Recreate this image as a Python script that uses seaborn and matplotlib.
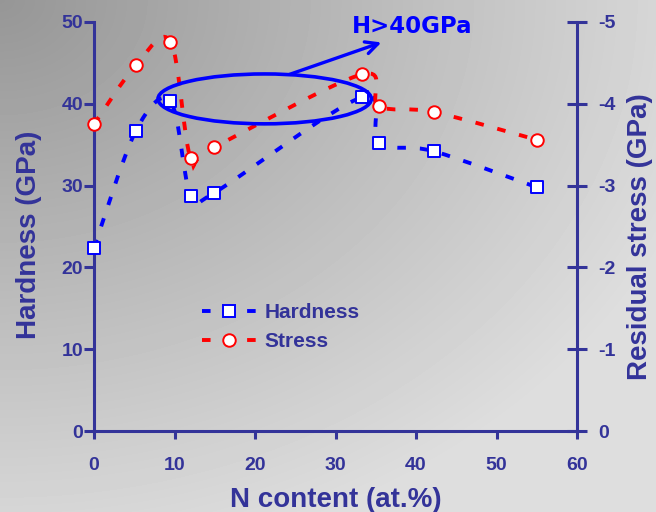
import numpy as np
import pandas as pd
import matplotlib
matplotlib.use("Agg")
import matplotlib.pyplot as plt
from matplotlib.path import Path
from matplotlib.patches import PathPatch, Ellipse
from matplotlib.lines import Line2D
import seaborn as sns

# --- data -------------------------------------------------------------
n_content = [0, 5.2, 9.5, 12.0, 14.9, 33.3, 35.4, 42.2, 55.0]
hardness = [22.4, 36.7, 40.3, 28.7, 29.1, 40.8, 35.2, 34.2, 29.8]
stress = [-3.75, -4.47, -4.76, -3.34, -3.47, -4.36, -3.97, -3.90, -3.56]

x_ticks = [0, 10, 20, 30, 40, 50, 60]
h_ticks = [0, 10, 20, 30, 40, 50]
s_ticks = [0, -1, -2, -3, -4, -5]

df = pd.DataFrame({"N": n_content, "Hardness": hardness, "Stress": stress})

# --- style ------------------------------------------------------------
sns.set_theme(style="white")
plt.rcParams["font.family"] = ["Liberation Sans", "DejaVu Sans"]
plt.rcParams["font.weight"] = "bold"
plt.rcParams["axes.unicode_minus"] = False

NAVY = "#333399"
BLUE = "#0000FF"
RED = "#FF0000"
LW = 2.8
DASH = (0, (2.2, 3.6))
MS = 9.0

fig = plt.figure(figsize=(6.56, 5.12), dpi=100)

# soft grey backdrop, darker toward the upper left
bg = fig.add_axes([0, 0, 1, 1], zorder=-10)
bg.axis("off")
yy, xx = np.mgrid[0:512, 0:656]
dist = np.sqrt((xx / 656.0) ** 2 + (yy / 512.0) ** 2)
shade = np.clip(150 + 64 * dist, 0, 222) / 255.0
bg.imshow(shade, cmap="gray", vmin=0, vmax=1, aspect="auto")

ax = fig.add_axes([94 / 656, 81 / 512, 483 / 656, 409 / 512])
ax.set_facecolor("none")
ax2 = ax.twinx()
ax2.set_facecolor("none")

ax.set_xlim(0, 60)
ax.set_ylim(0, 50)
ax2.set_ylim(0, -5)


def smooth_path(xs, ys):
    """Smoothed polyline through the points (cubic Bezier, Catmull-Rom tangents)."""
    pts = np.column_stack([xs, ys]).astype(float)
    n = len(pts)
    verts = [pts[0]]
    codes = [Path.MOVETO]
    for i in range(n - 1):
        p_prev = pts[i - 1] if i > 0 else pts[i]
        p0, p1 = pts[i], pts[i + 1]
        p_next = pts[i + 2] if i + 2 < n else pts[i + 1]
        c1 = p0 + (p1 - p_prev) / 6.0
        c2 = p1 - (p_next - p0) / 6.0
        verts += [c1, c2, p1]
        codes += [Path.CURVE4] * 3
    return Path(verts, codes)


ax.add_patch(PathPatch(smooth_path(df["N"], df["Hardness"]), fill=False,
                       edgecolor=BLUE, lw=LW, linestyle=DASH, zorder=2))
ax2.add_patch(PathPatch(smooth_path(df["N"], df["Stress"]), fill=False,
                        edgecolor=RED, lw=LW, linestyle=DASH, zorder=2))

sns.scatterplot(data=df, x="N", y="Hardness", ax=ax, marker="s", s=MS ** 2,
                color="white", edgecolor=BLUE, linewidth=1.4, zorder=4,
                legend=False, clip_on=False)
sns.scatterplot(data=df, x="N", y="Stress", ax=ax2, marker="o", s=MS ** 2,
                color="white", edgecolor=RED, linewidth=1.4, zorder=4,
                legend=False, clip_on=False)

# highlight of the super-hard region
ax2.add_patch(Ellipse((21.2, 40.6), 26.5, 6.1, transform=ax.transData,
                      fill=False, edgecolor=BLUE, lw=2.6, zorder=5))
ax2.annotate("", xy=(35.7, 47.5), xytext=(24.3, 43.6),
             xycoords=ax.transData, textcoords=ax.transData,
             arrowprops=dict(arrowstyle="->", color=BLUE, lw=2.4,
                             mutation_scale=22, shrinkA=0, shrinkB=0),
             zorder=5)
ax2.text(32.0, 48.6, "H>40GPa", transform=ax.transData, color=BLUE,
         fontsize=16.5, fontweight="bold", family="DejaVu Sans",
         ha="left", va="baseline", clip_on=False, zorder=6)

# --- axes -------------------------------------------------------------
for a in (ax, ax2):
    for s in a.spines.values():
        s.set_visible(False)
for side in ("left", "bottom"):
    ax.spines[side].set_visible(True)
    ax.spines[side].set_color(NAVY)
    ax.spines[side].set_linewidth(2.2)
ax2.spines["right"].set_visible(True)
ax2.spines["right"].set_color(NAVY)
ax2.spines["right"].set_linewidth(2.2)

ax.set_xticks(x_ticks)
ax.set_yticks(h_ticks)
ax2.set_yticks(s_ticks)
ax2.set_yticklabels([str(v) for v in s_ticks])

ax.tick_params(axis="y", direction="out", length=7, width=2.2, color=NAVY,
               labelcolor=NAVY, labelsize=14, pad=1, left=True)
ax.tick_params(axis="x", direction="out", length=6, width=2.2, color=NAVY,
               labelcolor=NAVY, labelsize=14, pad=13, bottom=True)
ax2.tick_params(axis="y", direction="inout", length=14, width=2.2, color=NAVY,
                labelcolor=NAVY, labelsize=14, pad=8, right=True)
for lab in ax.get_xticklabels() + ax.get_yticklabels() + ax2.get_yticklabels():
    lab.set_fontweight("bold")

ax.set_xlabel("N content (at.%)", fontsize=20, fontweight="bold", color=NAVY,
              va="center")
ax.xaxis.set_label_coords(0.5, (431 - 500) / 409)
ax.set_ylabel("Hardness (GPa)", fontsize=20, fontweight="bold", color=NAVY,
              va="center", ha="center")
ax.yaxis.set_label_coords((29 - 94) / 483, (431 - 235) / 409)
ax2.set_ylabel("Residual stress (GPa)", fontsize=20, fontweight="bold",
               color=NAVY, va="center", ha="center", rotation=90)
ax2.yaxis.set_label_coords((640 - 94) / 483, (431 - 237) / 409)

handles = [
    Line2D([], [], color=BLUE, lw=LW, linestyle=DASH, marker="s", ms=MS,
           mfc="white", mec=BLUE, mew=1.4),
    Line2D([], [], color=RED, lw=LW, linestyle=DASH, marker="o", ms=MS,
           mfc="white", mec=RED, mew=1.4),
]
leg = ax2.legend(handles, ["Hardness", "Stress"], loc="upper left",
                 bbox_to_anchor=((202 - 94) / 483, (431 - 303) / 409),
                 frameon=False, fontsize=15, handlelength=2.6,
                 handletextpad=0.4, labelspacing=0.5, borderpad=0,
                 borderaxespad=0)
for t in leg.get_texts():
    t.set_color(NAVY)
    t.set_fontweight("bold")

fig.savefig("out.png", dpi=100)
